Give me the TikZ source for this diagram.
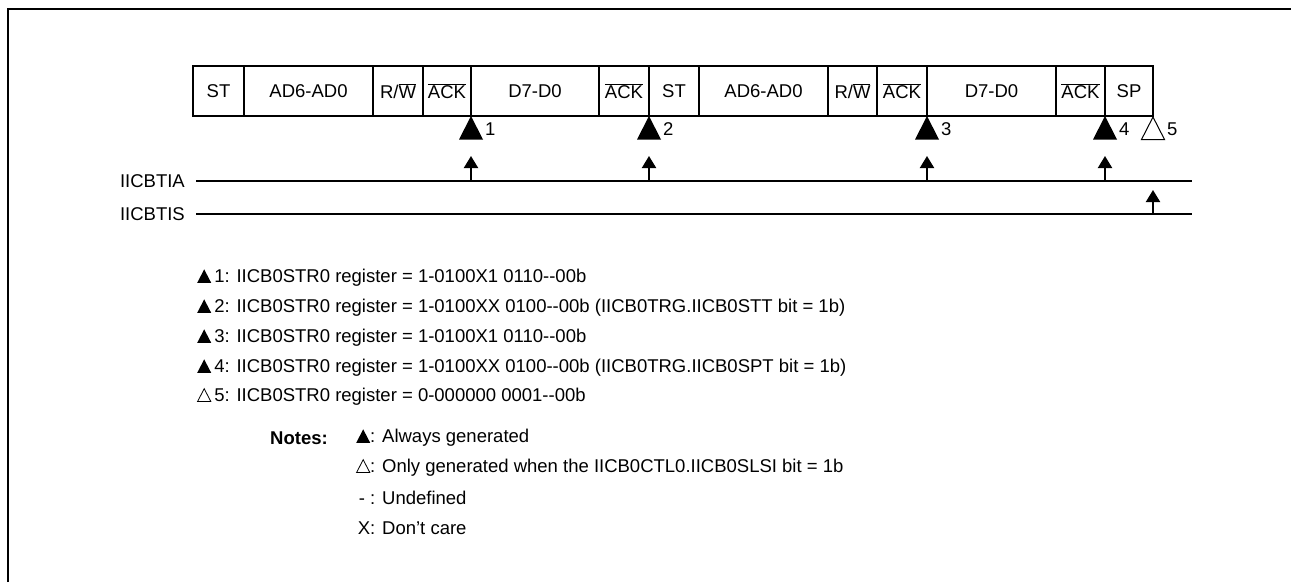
\documentclass[tikz,border=0pt]{standalone}
\usepackage{fontspec}
\setmainfont{Liberation Sans}
\usetikzlibrary{arrows.meta, positioning}

\newcommand{\ovl}[1]{$\overline{\mbox{#1}}$}
\newcommand{\rwbar}{R/\ovl{W}}
\newcommand{\ackbar}{\ovl{ACK}}
\newcommand{\trifull}{\tikz[x=1pt,y=1pt,baseline=0pt]\fill (0,0) -- (7,13.5) -- (14,0) -- cycle;}
\newcommand{\triopen}{\tikz[x=1pt,y=1pt,baseline=0pt]\draw[line width=0.8pt] (0.4,0.4) -- (7,13.1) -- (13.6,0.4) -- cycle;}
\newcommand{\notesym}[1]{\makebox[15pt][r]{#1}}

\tikzset{
  cell/.style={draw, line width=2.5pt, minimum height=50pt, inner sep=0pt,
               outer sep=0pt, anchor=west},
  busline/.style={line width=2pt},
  sig/.style={line width=2pt, -{Triangle[width=14pt,length=12pt]}},
  txt/.style={anchor=west, inner sep=0pt},
}

\begin{document}
\begin{tikzpicture}[x=1pt, y=-1pt, font=\fontsize{18.5}{22}\selectfont]
  \useasboundingbox (0,0) rectangle (1291,582);
  % partial frame
  \draw[line width=2.5pt] (8,582) -- (8,9) -- (1291,9);

  % frame cells
  \foreach \i/\xs/\w/\lab in {1/193/51/ST, 2/244/129/AD6-AD0, 3/373/50/\rwbar,
      4/423/48/\ackbar, 5/471/128/D7-D0, 6/599/50/\ackbar, 7/649/50/ST,
      8/699/129/AD6-AD0, 9/828/49/\rwbar, 10/877/50/\ackbar,
      11/927/129/D7-D0, 12/1056/49/\ackbar, 13/1105/48/SP}
    \node[cell, minimum width=\w pt] (c\i) at (\xs,91) {\lab};

  % interrupt marks
  \foreach \c/\n in {4/1, 6/2, 10/3, 12/4} {
    \fill (c\c.south east) -- ++(-12,23.5) -- ++(24,0) -- cycle;
    \node[txt] (m\n) at ([shift={(14,13)}]c\c.south east) {\n};
  }
  \draw[line width=1pt] ([shift={(0,1)}]c13.south east) -- ++(-11.5,22.5) -- ++(23,0) -- cycle;
  \node[txt] (m5) at ([shift={(14,13)}]c13.south east) {5};

  % signals
  \node[anchor=east, inner sep=0pt] (tia) at (185,181) {IICBTIA};
  \node[anchor=east, inner sep=0pt] (tis) at (185,214) {IICBTIS};
  \coordinate (tiaend) at (1192,181);
  \coordinate (tisend) at (1192,214);
  \draw[busline] ([xshift=11pt]tia.east) -- (tiaend);
  \draw[busline] ([xshift=11pt]tis.east) -- (tisend);
  \foreach \c in {4,6,10,12} {
    \coordinate (up\c) at (c\c.south east |- tiaend);
    \coordinate (tip\c) at ([yshift=25pt]up\c);
    \draw[sig] (up\c) -- (tip\c);
  }
  \coordinate (up13) at (c13.south east |- tisend);
  \coordinate (tip13) at ([yshift=24pt]up13);
  \draw[sig] (up13) -- (tip13);

  % legend
  \node[txt] (leg1) at (197,278) {\trifull\,1: IICB0STR0 register = 1-0100X1 0110-{}-00b};
  \node[txt] (leg2) at (197,308) {\trifull\,2: IICB0STR0 register = 1-0100XX 0100-{}-00b (IICB0TRG.IICB0STT bit = 1b)};
  \node[txt] (leg3) at (197,338) {\trifull\,3: IICB0STR0 register = 1-0100X1 0110-{}-00b};
  \node[txt] (leg4) at (197,368) {\trifull\,4: IICB0STR0 register = 1-0100XX 0100-{}-00b (IICB0TRG.IICB0SPT bit = 1b)};
  \node[txt] (leg5) at (197,397) {\triopen\,5: IICB0STR0 register = 0-000000 0001-{}-00b};

  % notes
  \node[txt, font=\fontsize{18.5}{22}\selectfont\bfseries] (notes) at (270,438) {Notes:};
  \node[txt] (note1) at (355,438) {\notesym{\trifull}: Always generated};
  \node[txt] (note2) at (355,468) {\notesym{\triopen}: Only generated when the IICB0CTL0.IICB0SLSI bit = 1b};
  \node[txt] (note3) at (355,498) {\notesym{- }: Undefined};
  \node[txt] (note4) at (355,528) {\notesym{X}: Don't care};
\end{tikzpicture}
\end{document}
